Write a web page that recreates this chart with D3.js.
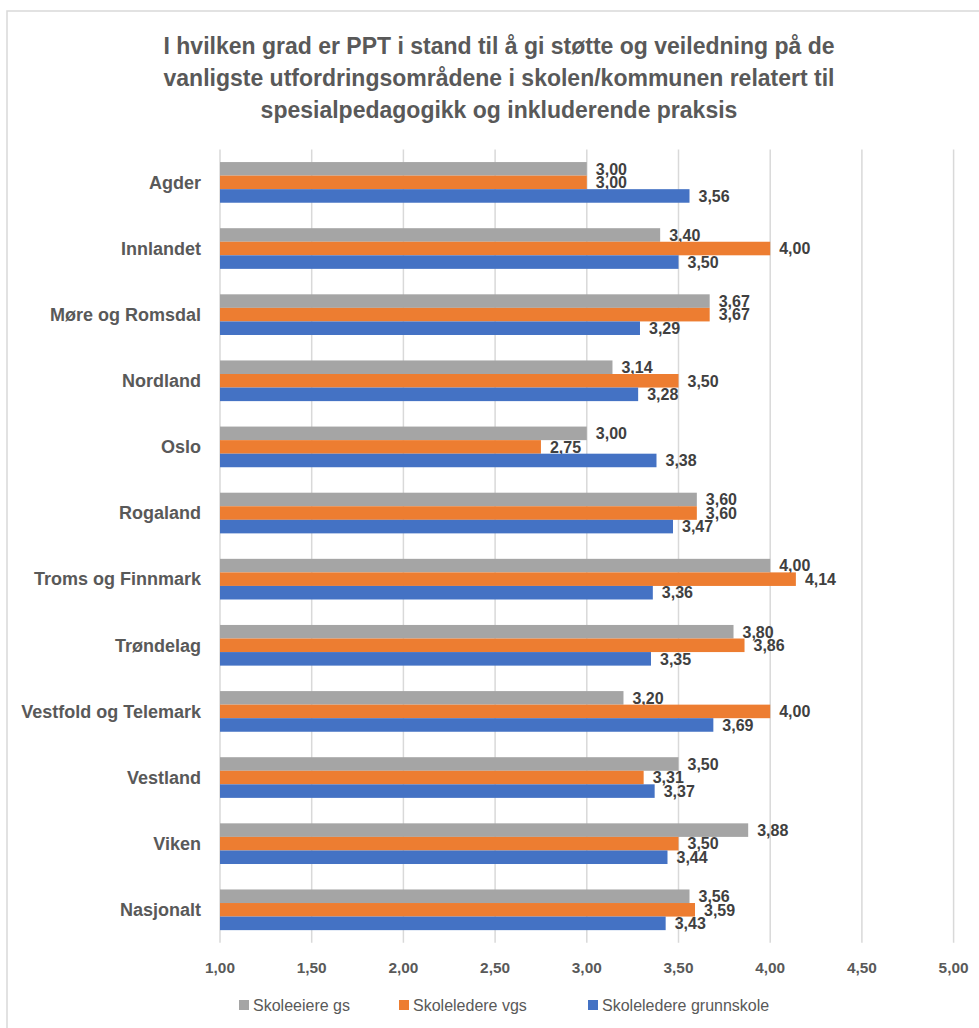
<!DOCTYPE html>
<meta charset="utf-8">
<style>
body { margin: 0; background: #fff; }
text { font-family: "Liberation Sans", Arial, sans-serif; }
.grid line { stroke: #d9d9d9; stroke-width: 1.5px; }
.cat { font-weight: bold; font-size: 18px; fill: #595959; }
.tick-label { font-weight: bold; font-size: 15.4px; fill: #595959; }
.val { font-weight: bold; font-size: 16px; fill: #404040; }
.legend text { font-size: 16px; fill: #595959; }
.title { font-weight: bold; font-size: 23px; fill: #595959; }
</style>
<svg width="979" height="1028"></svg>
<script src="https://d3js.org/d3.v7.min.js"></script>
<script>
var svg = d3.select("svg");

// categories (top to bottom)
var regions = ["Agder", "Innlandet", "Møre og Romsdal", "Nordland", "Oslo", "Rogaland",
  "Troms og Finnmark", "Trøndelag", "Vestfold og Telemark", "Vestland", "Viken", "Nasjonalt"];

// series, in the order the bars are stacked inside a group (top to bottom)
var seriesNames = ["Skoleeiere gs", "Skoleledere vgs", "Skoleledere grunnskole"];
var seriesColors = ["#a5a5a5", "#ed7d31", "#4472c4"];

var skoleeiereGs = [3.00, 3.40, 3.67, 3.14, 3.00, 3.60, 4.00, 3.80, 3.20, 3.50, 3.88, 3.56];
var skoleledereVgs = [3.00, 4.00, 3.67, 3.50, 2.75, 3.60, 4.14, 3.86, 4.00, 3.31, 3.50, 3.59];
var skoleledereGrunnskole = [3.56, 3.50, 3.29, 3.28, 3.38, 3.47, 3.36, 3.35, 3.69, 3.37, 3.44, 3.43];

var xTicks = [1.0, 1.5, 2.0, 2.5, 3.0, 3.5, 4.0, 4.5, 5.0];

var titleLines = [
  "I hvilken grad er PPT i stand til å gi støtte og veiledning på de",
  "vanligste utfordringsområdene i skolen/kommunen relatert til",
  "spesialpedagogikk og inkluderende praksis"
];

var seriesValues = [skoleeiereGs, skoleledereVgs, skoleledereGrunnskole];
var fmt = function(v) { return d3.format(".2f")(v).replace(".", ","); };

// chart frame
svg.append("rect")
  .attr("x", 7).attr("y", 11)
  .attr("width", 1000).attr("height", 1050)
  .attr("fill", "none").attr("stroke", "#d9d9d9").attr("stroke-width", 1.5);

// title
svg.append("g").selectAll("text")
  .data(titleLines)
  .enter().append("text")
  .attr("class", "title")
  .attr("x", 499)
  .attr("y", function(d, i) { return 54 + i * 32; })
  .attr("text-anchor", "middle")
  .text(function(d) { return d; });

var x = d3.scaleLinear().domain([1, 5]).range([220, 953.6]);
var y = d3.scaleBand().domain(regions).range([149.5, 942.7]).paddingInner(0.385).paddingOuter(0.19);
var ySub = d3.scaleBand().domain(d3.range(seriesNames.length)).range([0, y.bandwidth()]);

// vertical gridlines
svg.append("g").attr("class", "grid")
  .selectAll("line")
  .data(xTicks)
  .enter().append("line")
  .attr("x1", function(d) { return x(d); })
  .attr("x2", function(d) { return x(d); })
  .attr("y1", y.range()[0])
  .attr("y2", y.range()[1]);

// x tick labels
svg.append("g").selectAll("text")
  .data(xTicks)
  .enter().append("text")
  .attr("class", "tick-label")
  .attr("x", function(d) { return x(d); })
  .attr("y", 972.5)
  .attr("text-anchor", "middle")
  .text(fmt);

// category labels
svg.append("g").selectAll("text")
  .data(regions)
  .enter().append("text")
  .attr("class", "cat")
  .attr("x", 201)
  .attr("y", function(d) { return y(d) + y.bandwidth() / 2; })
  .attr("dy", "0.35em")
  .attr("text-anchor", "end")
  .text(function(d) { return d; });

// bars + value labels
var groups = svg.append("g").selectAll("g")
  .data(regions)
  .enter().append("g")
  .attr("transform", function(d) { return "translate(0," + y(d) + ")"; });

var cells = groups.selectAll("g")
  .data(function(d, i) {
    return seriesValues.map(function(vals, s) { return { s: s, v: vals[i] }; });
  })
  .enter().append("g");

cells.append("rect")
  .attr("x", x(1))
  .attr("y", function(d) { return ySub(d.s); })
  .attr("width", function(d) { return x(d.v) - x(1); })
  .attr("height", ySub.bandwidth())
  .attr("fill", function(d) { return seriesColors[d.s]; });

cells.append("text")
  .attr("class", "val")
  .attr("x", function(d) { return x(d.v) + 9; })
  .attr("y", function(d) { return ySub(d.s) + ySub.bandwidth() / 2; })
  .attr("dy", "0.36em")
  .text(function(d) { return fmt(d.v); });

// legend
var legendX = [239, 399, 588];
var legend = svg.append("g").attr("class", "legend")
  .selectAll("g")
  .data(seriesNames)
  .enter().append("g")
  .attr("transform", function(d, i) { return "translate(" + legendX[i] + ",1000)"; });

legend.append("rect")
  .attr("width", 10).attr("height", 10)
  .attr("fill", function(d, i) { return seriesColors[i]; });

legend.append("text")
  .attr("x", 14)
  .attr("y", 5)
  .attr("dy", "0.36em")
  .text(function(d) { return d; });
</script>
